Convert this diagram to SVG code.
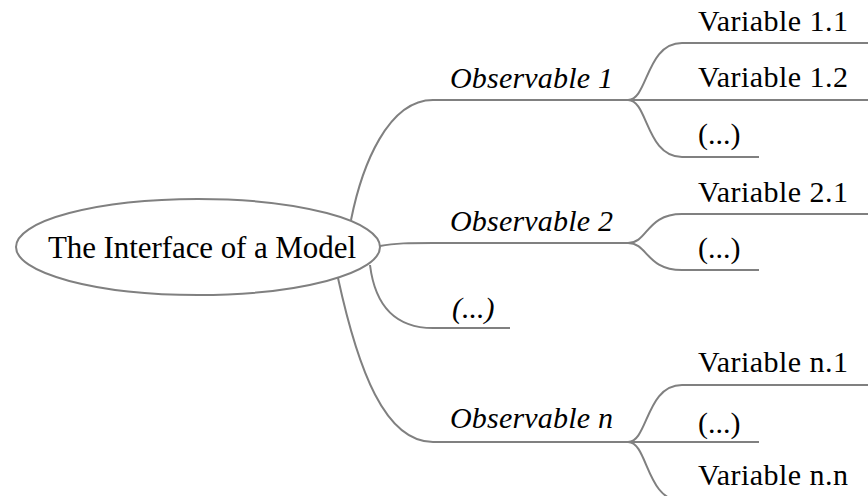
<svg xmlns="http://www.w3.org/2000/svg" width="868" height="496" viewBox="0 0 868 496">
<style>
.ln{fill:none;stroke:#808080;stroke-width:2}
text{font-family:'Liberation Serif','Times New Roman',serif;fill:#000}
.t{font-size:30px}
.r{font-size:31px}
.i{font-size:30px;font-style:italic}
</style>
<rect width="868" height="496" fill="#fff"/>
<g id="connectors">
<path class="ln" d="M351,220 C362,165 388,100 433,100 L628,100"/>
<path class="ln" d="M380,246 C395,243 410,243 433,243 L628,243"/>
<path class="ln" d="M370,265 C375,305 395,328 433,328 L510,328"/>
<path class="ln" d="M338,278 C358,370 385,442 433,442 L628,442"/>
<path class="ln" d="M628,100 C648,100 646,43 682,43 L868,43"/>
<path class="ln" d="M628,100 L868,100"/>
<path class="ln" d="M628,100 C648,100 646,157 682,157 L759,157"/>
<path class="ln" d="M628,243 C648,243 646,214 682,214 L868,214"/>
<path class="ln" d="M628,243 C648,243 646,270 682,270 L759,270"/>
<path class="ln" d="M628,442 C648,442 646,385 682,385 L868,385"/>
<path class="ln" d="M628,442 L759,442"/>
<path class="ln" d="M628,442 C648,442 646,501 682,501 L868,501"/>
</g>
<g id="root">
<ellipse class="ln" cx="198" cy="247" rx="182" ry="48"/>
<text class="r" x="48" y="258" textLength="308">The Interface of a Model</text>
</g>
<g id="obs1"><text class="i" x="450" y="88" textLength="163">Observable 1</text></g>
<g id="obs2"><text class="i" x="450" y="231" textLength="163">Observable 2</text></g>
<g id="obsdots"><text class="i" x="452" y="318">(...)</text></g>
<g id="obsn"><text class="i" x="450" y="428" textLength="163">Observable n</text></g>
<g id="v11"><text class="t" x="698" y="31" textLength="150">Variable 1.1</text></g>
<g id="v12"><text class="t" x="698" y="87" textLength="150">Variable 1.2</text></g>
<g id="v1dots"><text class="t" x="698" y="144">(...)</text></g>
<g id="v21"><text class="t" x="698" y="202" textLength="150">Variable 2.1</text></g>
<g id="v2dots"><text class="t" x="698" y="258">(...)</text></g>
<g id="vn1"><text class="t" x="698" y="372" textLength="150">Variable n.1</text></g>
<g id="vndots"><text class="t" x="698" y="433">(...)</text></g>
<g id="vnn"><text class="t" x="698" y="485" textLength="150">Variable n.n</text></g>
</svg>
